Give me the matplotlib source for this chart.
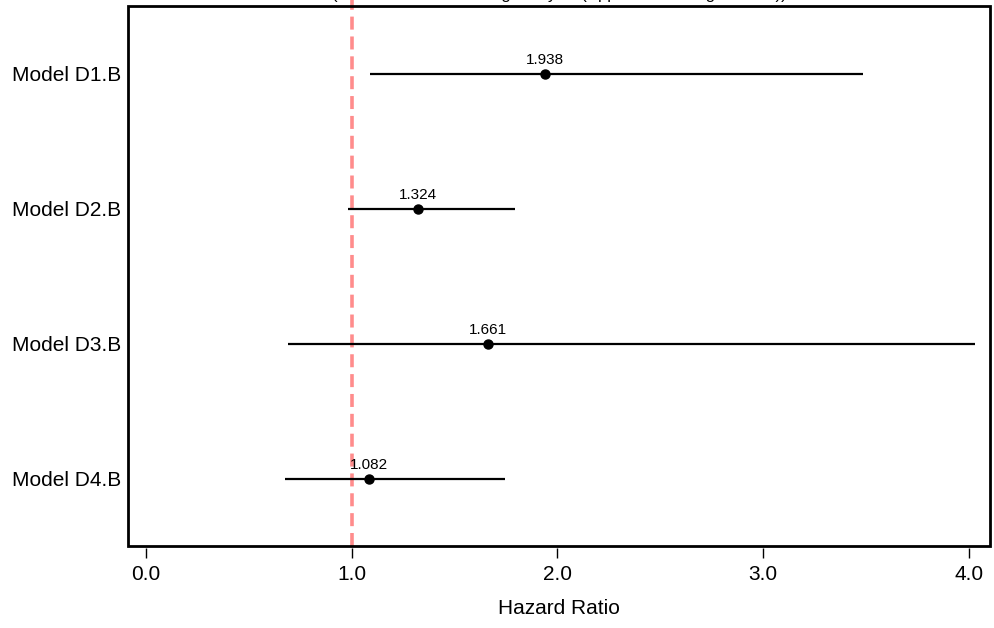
import matplotlib
matplotlib.use("Agg")
import matplotlib.pyplot as plt
from matplotlib.patches import Rectangle

plt.rcParams['font.family'] = ['Liberation Sans', 'DejaVu Sans']

models = ["Model D1.B", "Model D2.B", "Model D3.B", "Model D4.B"]
hr = [1.938, 1.324, 1.661, 1.082]
ci_low = [1.089, 0.982, 0.690, 0.676]
ci_high = [3.486, 1.794, 4.030, 1.745]
xticks = [0.0, 1.0, 2.0, 3.0, 4.0]
xtick_labels = ["0.0", "1.0", "2.0", "3.0", "4.0"]
ref_value = 1.0
title = "(Hazard Ratio Following Analysis (Applied Matching Method))"

W, H = 995, 628
fig = plt.figure(figsize=(W / 100, H / 100), dpi=100)
ax = fig.add_axes([128 / W, (H - 546) / H, (990 - 128) / W, (546 - 6) / H])

for s in ax.spines.values():
    s.set_visible(False)
ax.spines['bottom'].set_position(('outward', 1.5))

ypos = [len(models) - i for i in range(len(models))]

ax.axvline(ref_value, color='#ff8c8c', lw=2.6, linestyle=(0, (3.6, 1.9)), zorder=1, clip_on=False,
           ymax=1.02)
for y, m, lo, hi in zip(ypos, hr, ci_low, ci_high):
    ax.plot([lo, hi], [y, y], color='black', lw=1.6, zorder=2, solid_capstyle='butt')
    ax.plot([m], [y], 'o', color='black', ms=6.5, zorder=3)
    ax.annotate(f"{m:.3f}", (m, y), xytext=(0, 5), textcoords='offset points',
                ha='center', va='bottom', fontsize=11)

ax.set_xlim(-0.0875, 4.103)
ax.set_ylim(0.5, 4.5)
ax.set_yticks(ypos)
ax.set_yticklabels(models, fontsize=15)
ax.tick_params(axis='y', length=0, pad=5)
ax.set_xticks(xticks)
ax.set_xticklabels(xtick_labels, fontsize=15)
ax.tick_params(axis='x', length=7, width=1, direction='out', pad=5)
ax.add_patch(Rectangle((0, 0), 1, 1, transform=ax.transAxes, fill=False,
                       lw=2, edgecolor='black', clip_on=False, zorder=5))
ax.set_xlabel("Hazard Ratio", fontsize=15, labelpad=11)

fig.text(559 / W, 1 + 1.2 / H, title, ha='center', va='baseline', fontsize=12)

fig.savefig("out.png", dpi=100)
